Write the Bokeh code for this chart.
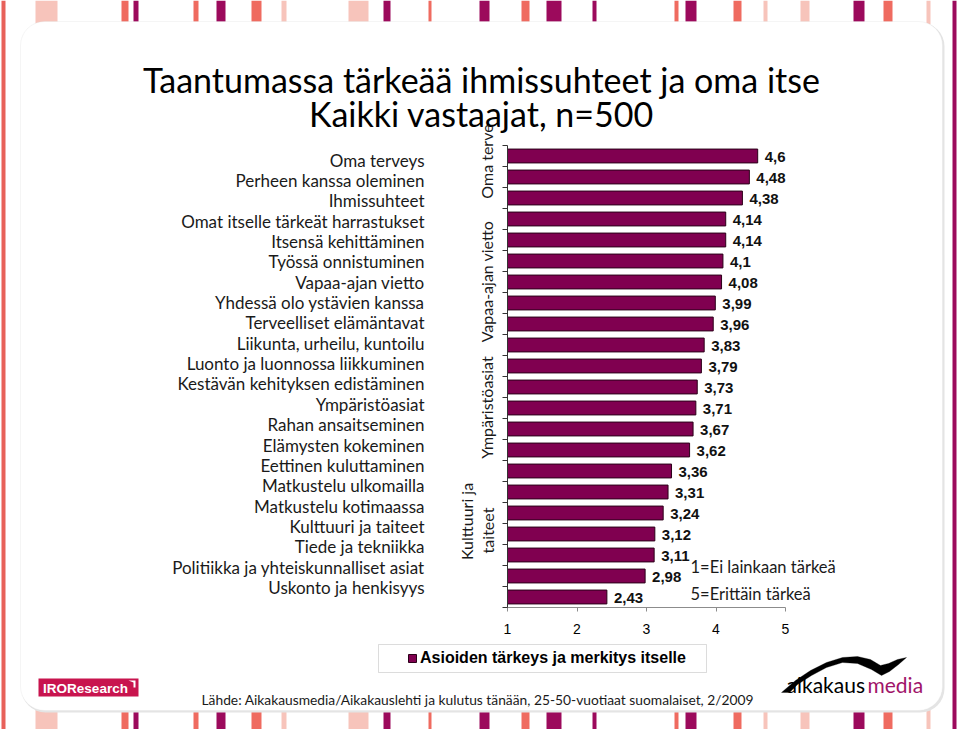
import math
from bokeh.plotting import figure
from bokeh.models import (Range1d, FixedTicker, CustomJSTickFormatter, ColumnDataSource,
                          LabelSet, Label, BoxAnnotation, Legend, LegendItem, PolyAnnotation)
from bokeh.core.properties import value
from bokeh.embed import file_html
from bokeh.resources import INLINE

# ---------------- data ----------------
categories = ["Oma terveys", "Perheen kanssa oleminen", "Ihmissuhteet",
              "Omat itselle tärkeät harrastukset", "Itsensä kehittäminen",
              "Työssä onnistuminen", "Vapaa-ajan vietto", "Yhdessä olo ystävien kanssa",
              "Terveelliset elämäntavat", "Liikunta, urheilu, kuntoilu",
              "Luonto ja luonnossa liikkuminen", "Kestävän kehityksen edistäminen",
              "Ympäristöasiat", "Rahan ansaitseminen", "Elämysten kokeminen",
              "Eettinen kuluttaminen", "Matkustelu ulkomailla", "Matkustelu kotimaassa",
              "Kulttuuri ja taiteet", "Tiede ja tekniikka",
              "Politiikka ja yhteiskunnalliset asiat", "Uskonto ja henkisyys"]
values = [4.6, 4.48, 4.38, 4.14, 4.14, 4.1, 4.08, 3.99, 3.96, 3.83, 3.79,
          3.73, 3.71, 3.67, 3.62, 3.36, 3.31, 3.24, 3.12, 3.11, 2.98, 2.43]
x_ticks = [1, 2, 3, 4, 5]
series_name = "Asioiden tärkeys ja merkitys itselle"
title_lines = ["Taantumassa tärkeää ihmissuhteet ja oma itse", "Kaikki vastaajat, n=500"]
rotated_labels = ["Oma terve", "Vapaa-ajan vietto", "Ympäristöasiat", "Kulttuuri ja", "taiteet"]
scale_notes = ["1=Ei lainkaan tärkeä", "5=Erittäin tärkeä"]
source_note = "Lähde: Aikakausmedia/Aikakauslehti ja kulutus tänään, 25-50-vuotiaat suomalaiset, 2/2009"

# ---------------- layout / style ----------------
W, H = 959, 729
PLOT_L, PLOT_R, PLOT_T, PLOT_B = 507, 785, 145, 607   # where the value axis / bar rows sit (px)
n = len(categories)
X_PX = (PLOT_R - PLOT_L) / (x_ticks[-1] - x_ticks[0])
ROW_PX = (PLOT_B - PLOT_T) / n
BAR = "#800050"
MAG = "#9c0a5c"
SAL = "#ef6b60"
PINK = "#f7c4bb"
HUM = "Lato"
ARIAL = "Liberation Sans"

ypos = [n - 1 - k for k in range(n)]
labels = [("%g" % v).replace(".", ",") for v in values]
src = ColumnDataSource(dict(y=ypos, v=values, lbl=labels, name=categories))

# the frame covers the whole slide; the scales put the value axis where the slide has it
x_range = Range1d(x_ticks[0] - PLOT_L / X_PX, x_ticks[0] + (W - PLOT_L) / X_PX)
y_range = Range1d(-0.5 - (H - PLOT_B) / ROW_PX, -0.5 + PLOT_B / ROW_PX)

p = figure(width=W, height=H, output_backend="svg", toolbar_location=None,
           x_range=x_range, y_range=y_range, min_border=0)
p.background_fill_color = "white"
p.border_fill_color = "white"
p.outline_line_color = None
p.grid.visible = False

def cbox(l, r, t, b, **kw):
    return BoxAnnotation(left=l, right=r, top=t, bottom=b,
                         left_units="canvas", right_units="canvas",
                         top_units="canvas", bottom_units="canvas", **kw)

# ---- decorations (slide background) ----
stripes = [(35, 57, PINK), (121, 128, SAL), (133, 138, MAG), (193, 198, SAL), (216, 225, MAG),
           (251, 261, SAL), (281, 286, PINK), (348, 368, PINK), (383, 390, MAG), (428, 431, SAL),
           (479, 489, MAG), (521, 529, SAL), (546, 561, MAG), (592, 596, MAG), (674, 678, SAL),
           (685, 696, MAG), (733, 741, SAL), (763, 767, PINK), (800, 809, PINK), (853, 864, MAG),
           (883, 892, SAL), (926, 930, PINK)]
for (a, b, c) in stripes:
    for (t, bt) in [(0, 24), (705, H)]:
        p.add_layout(cbox(a, b, t, bt, fill_color=c, fill_alpha=1,
                          line_color=None, level="underlay"))
p.add_layout(cbox(1, 5, 0, H, fill_color="#e8615a", fill_alpha=1, line_color=None, level="underlay"))
p.add_layout(cbox(952, 956, 0, H, fill_color=MAG, fill_alpha=1, line_color=None, level="underlay"))
p.add_layout(cbox(21, 944, 22, 712, fill_color="#e4e4e4", fill_alpha=1, line_color=None,
                  border_radius=24, level="underlay"))
p.add_layout(cbox(20, 942, 21, 710, fill_color="white", fill_alpha=1, line_color="#dedede",
                  line_width=1, border_radius=24, level="underlay"))

# ---- bars ----
bars = p.hbar(y="y", left=x_ticks[0], right="v", height=0.66, source=src,
              fill_color=BAR, line_color="#2b0019", line_width=1)

p.add_layout(LabelSet(x="v", y="y", text="lbl", source=src, x_offset=7, y_offset=-1,
                      text_font=value(ARIAL), text_font_style="bold", text_font_size="15px",
                      text_color="#111111", text_baseline="middle", text_align="left"))

# ---- axes ----
xa = p.xaxis[0]
xa.fixed_location = -0.5
xa.bounds = (x_ticks[0], x_ticks[-1])
xa.ticker = FixedTicker(ticks=x_ticks)
xa.major_tick_out = 4
xa.major_tick_in = 0
xa.minor_tick_out = 0
xa.minor_tick_in = 0
xa.axis_line_color = "#8c8c8c"
xa.major_tick_line_color = "#8c8c8c"
xa.major_label_text_font = ARIAL
xa.major_label_text_font_size = "14px"
xa.major_label_text_color = "black"
xa.major_label_standoff = 12

# category list rows (slightly tighter than bar rows in the original slide)
LIST_TOP_PX, LIST_STEP_PX = 159.5, 20.36
list_ticks = [-0.5 + (PLOT_B - (LIST_TOP_PX + LIST_STEP_PX * k)) / ROW_PX for k in range(n)]
ya = p.yaxis[0]
ya.fixed_location = x_ticks[0]
ya.bounds = (-0.5, n - 0.5)
ya.ticker = FixedTicker(ticks=list_ticks, minor_ticks=[i - 0.5 for i in range(n + 1)])
ya.formatter = CustomJSTickFormatter(
    args=dict(t0=list_ticks[0], dt=LIST_STEP_PX / ROW_PX, names=categories),
    code="const k = Math.round((t0 - tick) / dt); return (k >= 0 && k < names.length) ? names[k] : '';")
ya.major_tick_out = 0
ya.major_tick_in = 0
ya.minor_tick_out = 5
ya.minor_tick_in = 0
ya.axis_line_color = "#333333"
ya.minor_tick_line_color = "#333333"
ya.major_label_text_font = HUM
ya.major_label_text_font_size = "17px"
ya.major_label_text_color = "#1a1a1a"
ya.major_label_standoff = 78

# ---- legend ----
p.add_layout(cbox(378, 706, 644, 672, fill_color="white", fill_alpha=1,
                  line_color="#8c8c8c", line_width=1, level="annotation"))
leg = Legend(items=[LegendItem(label=series_name, renderers=[bars])],
             location=(407, H - 667), padding=0, margin=0, spacing=0,
             glyph_width=10, glyph_height=10, label_height=18, label_standoff=3,
             border_line_color=None, background_fill_alpha=0,
             label_text_font=ARIAL, label_text_font_style="bold",
             label_text_font_size="16px", label_text_color="black")
p.add_layout(leg)

# ---- texts ----
def lab(text, x, y, size, font=HUM, align="left", color="black", style="normal", angle=0.0):
    p.add_layout(Label(x=x, y=y, x_units="canvas", y_units="canvas", text=text,
                       text_font=font, text_font_size=size, text_align=align,
                       text_baseline="middle", text_color=color, text_font_style=style,
                       angle=angle))

lab(title_lines[0], 481, 79, "34px", align="center")
lab(title_lines[1], 481, 113, "34px", align="center")

rot_pos = [(486, 161), (486, 281), (486, 407), (466, 521), (487, 530)]
for t, (x, y) in zip(rotated_labels, rot_pos):
    lab(t, x, y, "16px", align="center", color="#1a1a1a", angle=math.pi / 2)

lab(scale_notes[0], 690, 566, "16.5px", color="#1a1a1a")
lab(scale_notes[1], 690, 593, "16.5px", color="#1a1a1a")
lab(source_note, 201, 699, "13.8px", color="#1a1a1a")

# IRO Research logo
p.add_layout(cbox(38, 138, 678, 696, fill_color="#c8144e", fill_alpha=1, line_color=None))
lab("IROResearch", 85, 688, "13.5px", font=ARIAL, align="center", color="white", style="bold")
p.add_layout(PolyAnnotation(xs=[128, 135, 135, 133, 133], ys=[680, 680, 687, 687, 682],
                            xs_units="canvas", ys_units="canvas",
                            fill_color="white", fill_alpha=1, line_color=None))

# aikakausmedia logo
swoosh_x = [781, 795, 810, 826, 842, 857, 870, 880, 888, 897, 906, 898, 889, 881, 871, 857, 842, 826, 811, 797, 789]
swoosh_y = [692, 680, 670, 662, 657, 656, 659, 665, 663, 659, 657, 664, 671, 675, 669, 663, 662, 667, 675, 684, 692]
p.add_layout(PolyAnnotation(xs=swoosh_x, ys=swoosh_y, xs_units="canvas", ys_units="canvas",
                            fill_color="black", fill_alpha=1, line_color="black", line_width=1))
lab("aikakaus", 786, 684, "21px", color="black")
lab("media", 867, 684, "21px", color="#a0146a")

open("out.html", "w").write(file_html(p, INLINE))
